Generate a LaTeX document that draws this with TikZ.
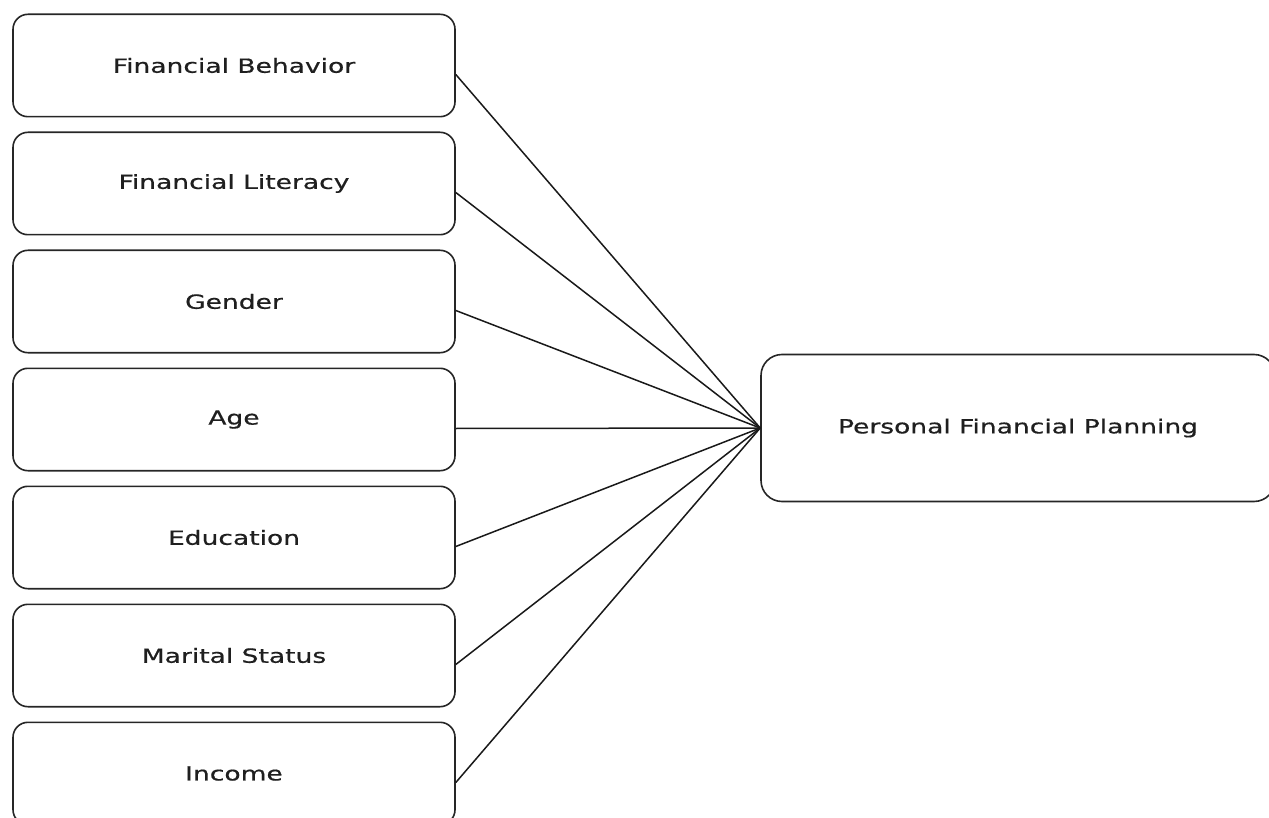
\documentclass[tikz,border=0pt]{standalone}
\usepackage{fontspec}
\setmainfont{DejaVu Sans}[FakeStretch=1.36, FakeBold=0.6]
\usetikzlibrary{positioning}

\tikzset{
  factor/.style={draw=black!85, line width=1.6pt, rounded corners=15pt,
    minimum width=442pt, minimum height=102.4pt,
    font=\fontsize{19.5}{23}\selectfont, text=black!88},
  outcome/.style={factor, rounded corners=21pt,
    minimum width=514pt, minimum height=147pt},
  link/.style={draw=black!90, line width=1.5pt}
}

\begin{document}
\begin{tikzpicture}[x=1pt, y=1pt, node distance=14pt]
  \useasboundingbox (0,0) rectangle (1269,-818);

  % predictors on the left
  \node[factor] (behavior) at (234,-65.5) {Financial Behavior};
  \node[factor, below=of behavior] (literacy) {Financial Literacy};
  \node[factor, below=of literacy] (gender) {Gender};
  \node[factor, below=of gender] (age) {Age};
  \node[factor, below=of age] (education) {Education};
  \node[factor, below=of education] (marital) {Marital Status};
  \node[factor, below=of marital] (income) {Income};

  % outcome
  \node[outcome] (planning) at (1018,-428) {Personal Financial Planning};

  % links
  \foreach \f in {behavior,literacy,gender,age,education,marital,income}
    \draw[link] ([yshift=-9pt]\f.east) -- (planning.west);
\end{tikzpicture}
\end{document}
